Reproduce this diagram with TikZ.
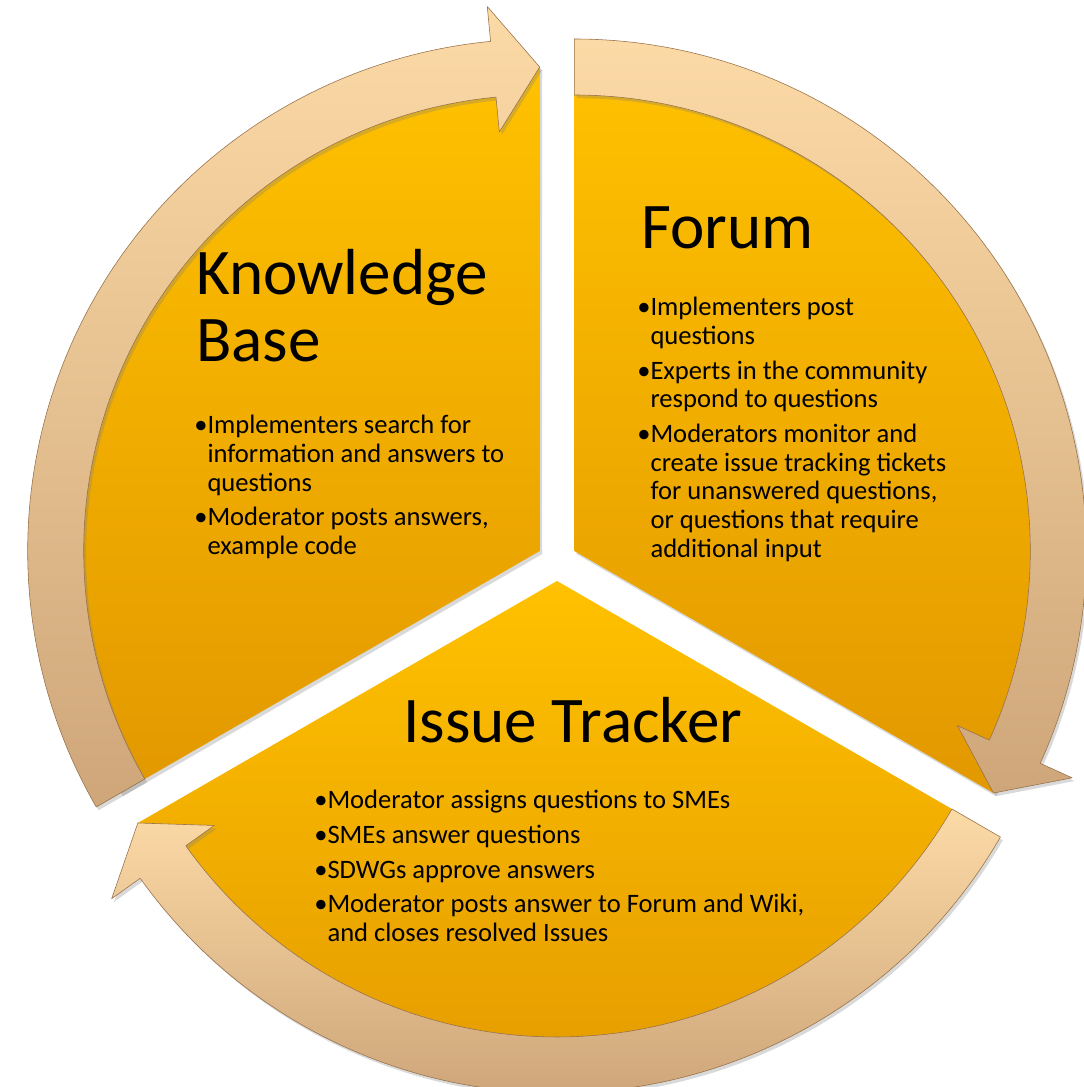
\documentclass[tikz,border=0pt]{standalone}
\usepackage{fontspec}
\setmainfont{Carlito}
\usepackage{tikz}
\usetikzlibrary{calc, shadows}
\definecolor{secgold}{RGB}{255,193,0}
\definecolor{secdeep}{RGB}{226,152,0}
\definecolor{arrlight}{RGB}{252,218,166}
\definecolor{arrtan}{RGB}{206,166,122}
\definecolor{arredge}{RGB}{150,112,72}
\newcommand{\bul}{\textbullet}
\newcommand{\ind}{\phantom{\textbullet}}
\tikzset{
  sector/.style={top color=secgold, bottom color=secdeep,
    drop shadow={opacity=0.3, shadow xshift=0.6mm, shadow yshift=-0.8mm}},
  cyclearrow/.style={top color=arrlight, bottom color=arrtan,
    draw=arredge, line width=0.4pt, line join=round,
    drop shadow={opacity=0.3, shadow xshift=0.6mm, shadow yshift=-0.8mm}},
  title/.style={anchor=north west, inner sep=0pt, align=left,
    font=\fontsize{46.3}{47.7}\selectfont},
  bullets/.style={anchor=north west, inner sep=0pt, align=left,
    font=\fontsize{18.9}{20.4}\selectfont}
}

\begin{document}
\begin{tikzpicture}[x=0.025cm, y=0.025cm]
  \useasboundingbox (0,0) rectangle (1084,1087);
  % centres of the three segments
  \coordinate (o) at (557,526);
  \coordinate (kb) at ($(o)+(150:20)$);
  \coordinate (fo) at ($(o)+(30:20)$);
  \coordinate (it) at ($(o)+(270:20)$);
  % segments
  \path[sector] (kb) -- ([shift={(kb)}]90:484)
       arc[start angle=90, end angle=210, radius=484] -- cycle;
  \path[sector] (fo) -- ([shift={(fo)}]-30:484)
       arc[start angle=-30, end angle=90, radius=484] -- cycle;
  \path[sector] (it) -- ([shift={(it)}]210:484)
       arc[start angle=210, end angle=330, radius=484] -- cycle;
  % curved arrows (clockwise)
  \foreach \c/\tail/\tip in {kb/210/90, fo/90/-30, it/330/210}{
    \pgfmathsetmacro\hb{\tip+5.5}
    \path[cyclearrow] ([shift={(\c)}]\tail:512)
         arc[start angle=\tail, end angle=\hb, radius=512]
         -- ([shift={(\c)}]\hb:547) -- ([shift={(\c)}]\tip:484)
         -- ([shift={(\c)}]\hb:421) -- ([shift={(\c)}]\hb:456)
         arc[start angle=\hb, end angle=\tail, radius=456] -- cycle;
  }
  % labels
  \node[title] (kbtitle) at (196,838) {Knowledge\\Base};
  \node[bullets] (kbtext) at (194,672) {\bul Implementers search for\\
    \ind information and answers to\\\ind questions\\[4.3pt]
    \bul Moderator posts answers,\\\ind example code};
  \node[title] (fotitle) at (641,881) {Forum};
  \node[bullets] (fotext) at (637,790) {\bul Implementers post\\
    \ind questions\\[4.3pt]
    \bul Experts in the community\\\ind respond to questions\\[4.3pt]
    \bul Moderators monitor and\\\ind create issue tracking tickets\\
    \ind for unanswered questions,\\\ind or questions that require\\
    \ind additional input};
  \node[title] (ittitle) at (403,390) {Issue Tracker};
  \node[bullets] (ittext) at (314,297) {\bul Moderator assigns questions to SMEs\\[4.3pt]
    \bul SMEs answer questions\\[4.3pt]
    \bul SDWGs approve answers\\[4.3pt]
    \bul Moderator posts answer to Forum and Wiki,\\
    \ind and closes resolved Issues};
\end{tikzpicture}
\end{document}
